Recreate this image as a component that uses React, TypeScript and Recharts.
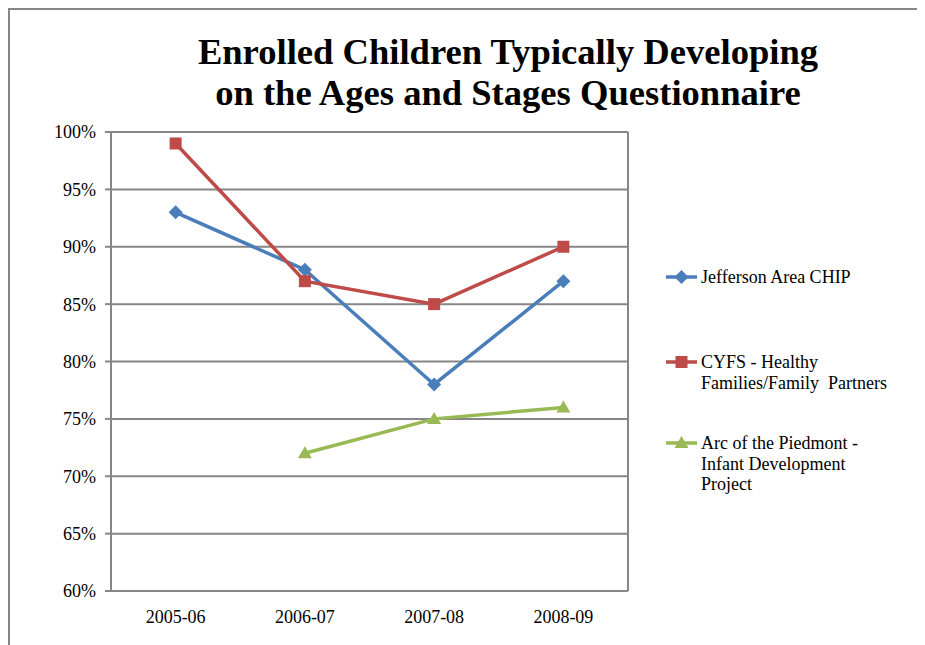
import { LineChart, Line, XAxis, YAxis, CartesianGrid, Legend } from "recharts"

const categories = ["2005-06", "2006-07", "2007-08", "2008-09"]
const jefferson = [0.93, 0.88, 0.78, 0.87]
const cyfs = [0.99, 0.87, 0.85, 0.9]
const arc = [null, 0.72, 0.75, 0.76]
const yTicks = [0.6, 0.65, 0.7, 0.75, 0.8, 0.85, 0.9, 0.95, 1]
const boundaryTicks = [0, 1, 2, 3, 4]

const titleLines = ["Enrolled Children Typically Developing", "on the Ages and Stages Questionnaire"]
const legendLines: Record<string, string[]> = {
  jefferson: ["Jefferson Area CHIP"],
  cyfs: ["CYFS - Healthy", "Families/Family  Partners"],
  arc: ["Arc of the Piedmont -", "Infant Development", "Project"],
}
const seriesOrder = ["jefferson", "cyfs", "arc"]

const data = categories.map((year, i) => ({
  year,
  jefferson: jefferson[i],
  cyfs: cyfs[i],
  arc: arc[i],
}))

const BLUE = "#4a7ebb"
const RED = "#be4b48"
const GREEN = "#98b954"
const GRID = "#868686"
const FONT = "Liberation Serif, Times New Roman, serif"

type Shape = "diamond" | "square" | "triangle"
const shapes: Record<string, Shape> = { jefferson: "diamond", cyfs: "square", arc: "triangle" }

function marker(shape: Shape, cx: number, cy: number, color: string, key?: string | number) {
  if (shape === "diamond") {
    return (
      <polygon key={key} points={`${cx},${cy - 7} ${cx + 7},${cy} ${cx},${cy + 7} ${cx - 7},${cy}`} fill={color} />
    )
  }
  if (shape === "square") {
    return <rect key={key} x={cx - 6} y={cy - 6} width={12} height={12} fill={color} />
  }
  return (
    <polygon key={key} points={`${cx},${cy - 7} ${cx + 7},${cy + 5} ${cx - 7},${cy + 5}`} fill={color} />
  )
}

const dotFor = (shape: Shape, color: string) =>
  // eslint-disable-next-line @typescript-eslint/no-explicit-any
  (props: any) => {
    const { cx, cy, index, value } = props
    if (cx == null || cy == null || value == null) return <g key={index} />
    return marker(shape, cx, cy, color, index)
  }

const itemOffsets = [0, 85, 166]

// eslint-disable-next-line @typescript-eslint/no-explicit-any
const renderLegend = (props: any) => {
  const { payload = [] } = props
  // eslint-disable-next-line @typescript-eslint/no-explicit-any
  const byKey: Record<string, any> = {}
  payload.forEach((p: { dataKey: string }) => (byKey[String(p.dataKey)] = p))
  return (
    <svg width={260} height={240} style={{ overflow: "visible" }}>
      {seriesOrder.map((key, i) => {
        const entry = byKey[key]
        if (!entry) return null
        const y = 17 + itemOffsets[i]
        return (
          <g key={key}>
            <line x1={0} x2={31} y1={y} y2={y} stroke={entry.color} strokeWidth={3.5} />
            {marker(shapes[key], 15.5, y, entry.color)}
            {legendLines[key].map((t, j) => (
              <text
                key={j}
                x={35}
                y={y + j * 20.5}
                dy="0.35em"
                fontSize={18}
                fontFamily={FONT}
                fill="#000"
                style={{ whiteSpace: "pre", fontFamily: FONT }}
              >
                {t}
              </text>
            ))}
          </g>
        )
      })}
    </svg>
  )
}

const tickStyle = { fontSize: 18, fontFamily: FONT, fill: "#000", style: { fontFamily: FONT } }

export default function App() {
  return (
    <div
      style={{
        position: "relative",
        width: 915,
        height: 635,
        borderLeft: `2px solid ${GRID}`,
        borderTop: `2px solid ${GRID}`,
        background: "#fff",
        fontFamily: FONT,
      }}
    >
      <svg width={915} height={120} style={{ position: "absolute", left: 0, top: 0 }}>
        {titleLines.map((t, i) => (
          <text
            key={i}
            x={498}
            y={54 + i * 41}
            textAnchor="middle"
            fontSize={36.6}
            fontWeight="bold"
            fontFamily={FONT}
            fill="#000"
          >
            {t}
          </text>
        ))}
      </svg>
      <LineChart
        width={915}
        height={635}
        data={data}
        margin={{ top: 122, right: 297, left: 0, bottom: 24 }}
        style={{ position: "absolute", left: 0, top: 0, fontFamily: FONT }}
      >
        <CartesianGrid xAxisId="grid" stroke={GRID} strokeWidth={2} strokeDasharray="" />
        <XAxis
          xAxisId="grid"
          type="number"
          domain={[0, 4]}
          ticks={boundaryTicks}
          tick={false}
          axisLine={false}
          tickLine={{ stroke: GRID, strokeWidth: 2 }}
          tickSize={5}
          height={1}
        />
        <XAxis
          dataKey="year"
          scale="band"
          axisLine={false}
          tickLine={false}
          tickSize={0}
          tickMargin={19}
          height={29}
          tick={tickStyle}
        />
        <YAxis
          domain={[0.6, 1]}
          ticks={yTicks}
          width={101}
          tickFormatter={(v: number) => `${Math.round(v * 100)}%`}
          axisLine={{ stroke: GRID, strokeWidth: 2 }}
          tickLine={{ stroke: GRID, strokeWidth: 2 }}
          tickSize={6}
          tickMargin={9}
          tick={tickStyle}
        />
        <Legend
          content={renderLegend}
          wrapperStyle={{ position: "absolute", left: 656, top: 250, width: 260, height: 0 }}
        />
        <Line
          dataKey="jefferson"
          name="Jefferson Area CHIP"
          stroke={BLUE}
          strokeWidth={3.5}
          dot={dotFor("diamond", BLUE)}
          activeDot={false}
          isAnimationActive={false}
        />
        <Line
          dataKey="cyfs"
          name="CYFS - Healthy Families/Family  Partners"
          stroke={RED}
          strokeWidth={3.5}
          dot={dotFor("square", RED)}
          activeDot={false}
          isAnimationActive={false}
        />
        <Line
          dataKey="arc"
          name="Arc of the Piedmont - Infant Development Project"
          stroke={GREEN}
          strokeWidth={3.5}
          dot={dotFor("triangle", GREEN)}
          activeDot={false}
          isAnimationActive={false}
        />
      </LineChart>
    </div>
  )
}
